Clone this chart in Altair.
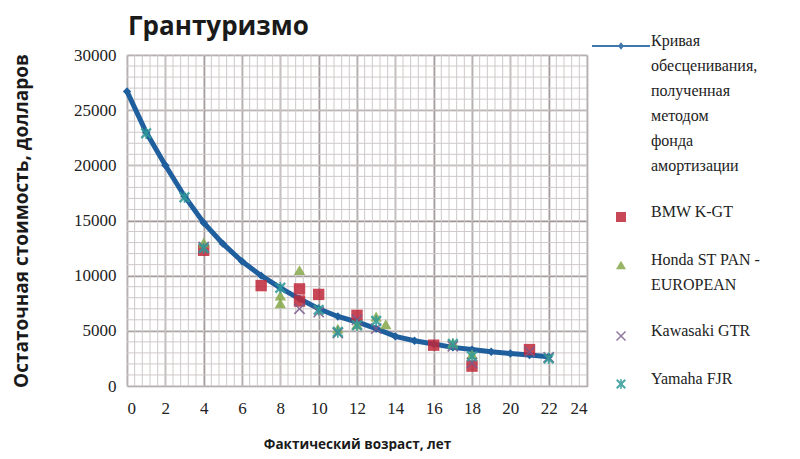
import altair as alt
import pandas as pd

# ---- data ----
CURVE = "Кривая\nобесценивания,\nполученная\nметодом\nфонда\nамортизации"
BMW = "BMW K-GT"
HONDA = "Honda ST PAN -\nEUROPEAN"
KAWA = "Kawasaki GTR"
YAMA = "Yamaha FJR"

curve_age = list(range(0, 23))
curve_val = [26700, 23000, 20000, 17200, 14800, 12900, 11300, 10000, 8900, 7900,
             7000, 6300, 5800, 5200, 4500, 4100, 3800, 3500, 3300, 3100, 2950, 2800, 2650]

bmw_age = [4, 7, 9, 9, 10, 12, 16, 18, 21]
bmw_val = [12300, 9100, 8800, 7700, 8300, 6400, 3700, 1800, 3300]

honda_age = [4, 8, 8, 9, 11, 12, 13, 13.5, 17, 18]
honda_val = [13000, 8200, 7500, 10500, 5200, 5600, 6300, 5600, 3900, 2900]

kawa_age = [4, 9, 10, 11, 12, 13, 17, 18, 21, 22]
kawa_val = [12600, 7000, 6700, 4800, 6000, 5200, 3600, 2100, 3100, 2600]

yama_age = [1, 3, 4, 8, 10, 11, 12, 13, 17, 18, 22]
yama_val = [22900, 17100, 12500, 8900, 6900, 4900, 5500, 5900, 3800, 2700, 2500]

x_major = list(range(0, 25, 2))
y_major = list(range(0, 30001, 5000))
x_minor = [round(i * 0.4, 1) for i in range(0, 61)]
y_minor = list(range(0, 30001, 1000))

series = [CURVE, BMW, HONDA, KAWA, YAMA]
colors = ["#1f5f9e", "#c0283a", "#86a84a", "#7a5a8c", "#2f9a98"]

# legend / marker shapes (unit paths)
line_diamond = ("M-5.8,-0.2L5.8,-0.2L5.8,0.2L-5.8,0.2Z "
                "M0,-0.75L0.6,0L0,0.75L-0.6,0Z")
x_shape = ("M-1,-0.8L-0.8,-1L0,-0.2L0.8,-1L1,-0.8L0.2,0L1,0.8L0.8,1L0,0.2L-0.8,1L-1,0.8L-0.2,0Z")
star_shape = ("M-1,-0.7L-0.7,-1L0,-0.3L0.7,-1L1,-0.7L0.3,0L1,0.7L0.7,1L0,0.3L-0.7,1L-1,0.7L-0.3,0Z "
              "M-0.15,-1L0.15,-1L0.15,1L-0.15,1Z")
shapes = [line_diamond, "square", "triangle-up", x_shape, star_shape]

curve_df = pd.DataFrame({"age": curve_age, "val": curve_val})
pts = []
for name, ages, vals in [(BMW, bmw_age, bmw_val), (HONDA, honda_age, honda_val),
                         (KAWA, kawa_age, kawa_val), (YAMA, yama_age, yama_val)]:
    for a, v in zip(ages, vals):
        pts.append({"age": a, "val": v, "series": name})
pts_df = pd.DataFrame(pts)

xscale = alt.Scale(domain=[0, 24], nice=False, zero=False)
yscale = alt.Scale(domain=[0, 30000], nice=False)

xaxis = alt.Axis(values=x_major, title="Фактический возраст, лет", grid=True, format="d",
                 gridColor="#9c9494", gridWidth=1.6, domain=False, ticks=False,
                 labelFont="Liberation Serif", labelFontSize=17, labelColor="#222222",
                 labelPadding=14, titleFont="Open Sans", titleFontSize=13.5,
                 titleFontWeight="bold", titleColor="#1a1a1a", titlePadding=21)
yaxis = alt.Axis(values=y_major, title="Остаточная стоимость, долларов", grid=True, format="d",
                 gridColor="#9c9494", gridWidth=1.6, domain=False, ticks=False,
                 labelFont="Liberation Serif", labelFontSize=17, labelColor="#222222",
                 labelPadding=11, titleFont="Open Sans", titleFontSize=19,
                 titleFontWeight="bold", titleColor="#1a1a1a", titlePadding=42)

base_x = alt.X("age:Q", scale=xscale, axis=xaxis)
base_y = alt.Y("val:Q", scale=yscale, axis=yaxis)

vgrid = alt.Chart(pd.DataFrame({"age": x_minor})).mark_rule(
    color="#cfc9c9", strokeWidth=1).encode(x=base_x)
hgrid = alt.Chart(pd.DataFrame({"val": y_minor})).mark_rule(
    color="#cfc9c9", strokeWidth=1).encode(y=base_y)

line = alt.Chart(curve_df).mark_line(color=colors[0], strokeWidth=5).encode(x=base_x, y=base_y)
curve_pts = alt.Chart(curve_df).mark_point(
    filled=True, shape="diamond", size=70, color=colors[0], opacity=1).encode(x=base_x, y=base_y)

scatter = alt.Chart(pts_df).mark_point(filled=True, size=130, opacity=0.85).encode(
    x=base_x, y=base_y,
    color=alt.Color("series:N", scale=alt.Scale(domain=series, range=colors),
                    legend=alt.Legend(
                        title=None, orient="none", legendX=486, legendY=-17,
                        labelExpr="split(datum.label, '\\n')",
                        labelFont="Liberation Serif", labelFontSize=16,
                        labelColor="#222222", labelLimit=400, labelOffset=22,
                        labelBaseline="alphabetic",
                        symbolSize=100, symbolStrokeWidth=0, rowPadding=30)),
    shape=alt.Shape("series:N", scale=alt.Scale(domain=series, range=shapes), legend=None),
)

chart = alt.layer(vgrid, hgrid, line, curve_pts, scatter).properties(
    width=460, height=331,
    title=alt.TitleParams("Грантуризмо", anchor="start", frame="group", font="Open Sans",
                          fontSize=26, fontWeight="bold", color="#1a1a1a", offset=-2, dx=1),
    padding={"left": 4, "top": 6, "right": 0, "bottom": 0},
).configure_view(stroke=None).configure_axis(
    labelFont="Liberation Serif", labelFontSize=17, labelColor="#222222"
).configure(
    style={"guide-label": {"lineHeight": 25, "font": "Liberation Serif", "fontSize": 17,
                           "fill": "#222222"}}
)

chart.save("out.html", embed_options={"renderer": "svg", "actions": False})
